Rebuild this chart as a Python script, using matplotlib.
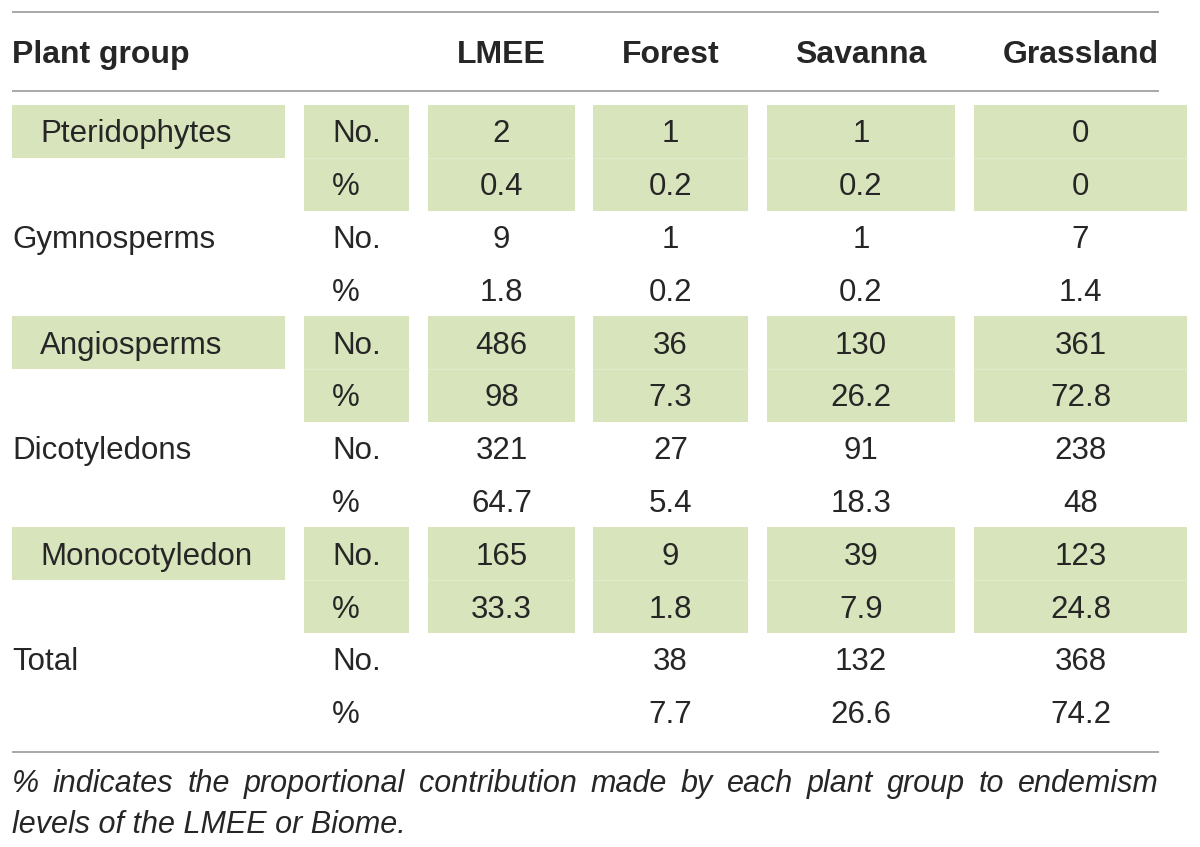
import matplotlib
matplotlib.use("Agg")
import matplotlib.pyplot as plt
from matplotlib.patches import Rectangle

# table content
columns = ["LMEE", "Forest", "Savanna", "Grassland"]
groups = ["Pteridophytes", "Gymnosperms", "Angiosperms", "Dicotyledons", "Monocotyledon", "Total"]
highlighted = [True, False, True, False, True, False]
measures = ["No.", "%"]

lmee_no = ["2", "9", "486", "321", "165", ""]
lmee_pct = ["0.4", "1.8", "98", "64.7", "33.3", ""]
forest_no = ["1", "1", "36", "27", "9", "38"]
forest_pct = ["0.2", "0.2", "7.3", "5.4", "1.8", "7.7"]
savanna_no = ["1", "1", "130", "91", "39", "132"]
savanna_pct = ["0.2", "0.2", "26.2", "18.3", "7.9", "26.6"]
grass_no = ["0", "7", "361", "238", "123", "368"]
grass_pct = ["0", "1.4", "72.8", "48", "24.8", "74.2"]

footnote = ["% indicates the proportional contribution made by each plant group to endemism",
            "levels of the LMEE or Biome."]

GREEN = "#d8e4bc"
INK = "#262626"
RULE = "#a8a8a8"
BODY = "Liberation Sans"
HEAD = "Liberation Sans"
FS = 22.5
HFS = 23

fig = plt.figure(figsize=(12, 8.47), dpi=100)
ax = fig.add_axes([0, 0, 1, 1])
ax.set_xlim(0, 1200)
ax.set_ylim(847, 0)
ax.axis("off")

# column geometry (pixels)
col_boxes = [(428, 575), (593, 748), (767, 955), (974, 1187)]
measure_box = (304, 409)
name_box = (12, 285)
top = 105
row_h = 52.8
cap = 11

# rules
for y in (12, 91, 752):
    ax.plot([12, 1159], [y, y], color=RULE, lw=1.4, solid_capstyle="butt")

# header
ax.text(12, 63, "Plant group", fontsize=HFS, fontweight="bold", family=HEAD,
        color=INK, va="baseline", ha="left")
for (x0, x1), name in zip(col_boxes, columns):
    ax.text((x0 + x1) / 2, 63, name, fontsize=HFS, fontweight="bold", family=HEAD,
            color=INK, va="baseline", ha="center")

no_cols = [lmee_no, forest_no, savanna_no, grass_no]
pct_cols = [lmee_pct, forest_pct, savanna_pct, grass_pct]

for i, g in enumerate(groups):
    y0 = top + 2 * i * row_h
    if highlighted[i]:
        ax.add_patch(Rectangle((name_box[0], y0), name_box[1] - name_box[0], row_h,
                               color=GREEN, lw=0))
        for x0, x1 in [measure_box] + col_boxes:
            ax.add_patch(Rectangle((x0, y0), x1 - x0, 2 * row_h, color=GREEN, lw=0))
            ax.plot([x0, x1], [y0 + row_h, y0 + row_h], color="#e3ebcd", lw=0.8)
        name_x = 40
    else:
        name_x = 12
    ax.text(name_x, y0 + row_h / 2 + cap, g, fontsize=FS, family=BODY,
            color=INK, va="baseline", ha="left")
    for k, m in enumerate(measures):
        yb = y0 + k * row_h + row_h / 2 + cap
        ax.text(332, yb, m, fontsize=FS, family=BODY, color=INK, va="baseline", ha="left")
        vals = no_cols if k == 0 else pct_cols
        for (x0, x1), col in zip(col_boxes, vals):
            ax.text((x0 + x1) / 2, yb, col[i], fontsize=FS, family=BODY,
                    color=INK, va="baseline", ha="center")

# footnote: size the first line to the rule width, then justify its words
fig.canvas.draw()
renderer = fig.canvas.get_renderer()
probe = ax.text(0, 0, footnote[0], fontsize=20, family=BODY, style="italic")
full = probe.get_window_extent(renderer).width
probe.remove()
fn_size = min(22, 20 * 1140 / full)
words = footnote[0].split(" ")
widths = []
for w in words:
    t = ax.text(0, 0, w, fontsize=fn_size, family=BODY, style="italic")
    widths.append(t.get_window_extent(renderer).width)
    t.remove()
gap = (1147 - sum(widths)) / (len(words) - 1)
x = 12
for w, wd in zip(words, widths):
    ax.text(x, 792, w, fontsize=fn_size, family=BODY, style="italic",
            color=INK, va="baseline", ha="left")
    x += wd + gap
ax.text(12, 833, footnote[1], fontsize=fn_size, family=BODY, style="italic",
        color=INK, va="baseline", ha="left")

fig.savefig("out.png", dpi=100)
